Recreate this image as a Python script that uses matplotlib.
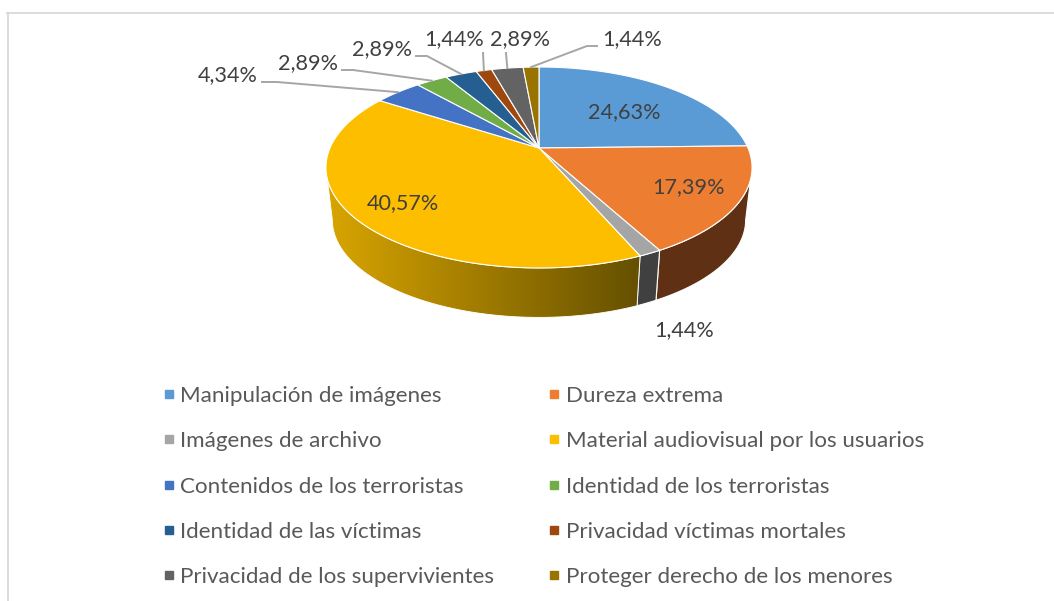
import numpy as np
import matplotlib
matplotlib.use("Agg")
import matplotlib.pyplot as plt
from matplotlib.colors import LinearSegmentedColormap
from matplotlib.lines import Line2D
from matplotlib.patches import Polygon

categories = [
    "Manipulación de imágenes",
    "Dureza extrema",
    "Imágenes de archivo",
    "Material audiovisual por los usuarios",
    "Contenidos de los terroristas",
    "Identidad de los terroristas",
    "Identidad de las víctimas",
    "Privacidad víctimas mortales",
    "Privacidad de los supervivientes",
    "Proteger derecho de los menores",
]
values = [24.63, 17.39, 1.44, 40.57, 4.34, 2.89, 2.89, 1.44, 2.89, 1.44]
colors = ["#5B9BD5", "#ED7D31", "#A5A5A5", "#FDBE00", "#4472C4",
          "#70AD47", "#255E91", "#9E480E", "#636363", "#997300"]
wall_colors = {1: "#5F3014", 2: "#404040"}

# label centres in pixels, and the elbow of the leader line if it has one
label_pos = [(624, 112), (688, 187), (684, 330), (403, 203), (228, 75),
             (308, 63), (382, 49), (454, 39), (520, 39), (632, 39)]
leader_start = {4: (262, 82), 5: (342, 70), 6: (416, 56), 7: (483, 53),
                8: (506, 53), 9: (597, 46)}
leader_elbow = {4: (277, 82), 5: (353, 70), 6: (427, 56), 9: (587, 46)}

# pie centre and perspective of the tilted disc
CX, CY = 539, 148
RX, RY, K = 209, 96.7, 0.194
DEPTH, LOWER_SCALE = 53, 0.97
# clockwise angles where the rim is widest, the wall is only visible between
WALL_FROM, WALL_TO = 101.2, 258.8

plt.rcParams["font.family"] = ["Lato", "DejaVu Sans"]


def project(theta, r=1.0, depth=0.0, scale=1.0):
    theta = np.radians(theta)
    u = r * np.sin(theta)
    v = r * np.cos(theta)
    w = 1 + K * v
    return CX + scale * RX * u / w, CY + depth - scale * RY * v / w


edges = np.concatenate([[0], np.cumsum(values)]) / sum(values) * 360

fig = plt.figure(figsize=(10.54, 6.01), dpi=100)
ax = fig.add_axes([0, 0, 1, 1])

# chart frame, only top and left show in the crop
ax.plot([7, 1054], [13, 13], color="#D9D9D9", lw=1.3, zorder=1)
ax.plot([8, 8], [13, 601], color="#D9D9D9", lw=1.3, zorder=1)

# side walls
gold = LinearSegmentedColormap.from_list("gold", ["#D9A500", "#655000"])
for i in (1, 2, 3):
    a = max(edges[i], WALL_FROM)
    b = min(edges[i + 1], WALL_TO)
    t = np.linspace(a, b, 120)
    xt, yt = project(t)
    xb, yb = project(t[::-1], depth=DEPTH, scale=LOWER_SCALE)
    pts = np.column_stack([np.r_[xt, xb], np.r_[yt, yb]])
    if i == 3:
        grad = ax.imshow(np.linspace(0, 1, 256)[None, :], cmap=gold, aspect="auto",
                         extent=[xt.min(), xt.max(), 330, 140], zorder=2)
        grad.set_clip_path(Polygon(pts, transform=ax.transData))
        ax.add_patch(Polygon(pts, fc="none", ec="white", lw=0.6, zorder=2.5))
    else:
        ax.add_patch(Polygon(pts, fc=wall_colors[i], ec="white", lw=0.8, zorder=2))

# top face
for i, col in enumerate(colors):
    t = np.linspace(edges[i], edges[i + 1], 100)
    x, y = project(t)
    ax.fill(np.r_[CX, x], np.r_[CY, y], fc=col, ec="white", lw=0.8, zorder=3)

# data labels and leaders
for i, val in enumerate(values):
    text = f"{val:.2f}%".replace(".", ",")
    ax.text(label_pos[i][0], label_pos[i][1], text, color="#404040", fontsize=15.6,
            ha="center", va="center", zorder=5)
    if i in leader_start:
        ex, ey = project((edges[i] + edges[i + 1]) / 2)
        pts = [leader_start[i]]
        if i in leader_elbow:
            pts.append(leader_elbow[i])
        pts.append((ex, ey))
        ax.plot(*zip(*pts), color="#A6A6A6", lw=1.4, zorder=4)

# legend, filled by column so swap the order to read by row
order = [0, 2, 4, 6, 8, 1, 3, 5, 7, 9]
handles = [Line2D([], [], ls="none", marker="s", ms=5.5, color=colors[i]) for i in order]
ax.legend(handles, [categories[i] for i in order], ncol=2, frameon=False,
          loc="upper left", bbox_to_anchor=(159, 386), bbox_transform=ax.transData,
          borderpad=0, borderaxespad=0, fontsize=16.1, labelcolor="#595959",
          labelspacing=1.13, handlelength=0.9, handletextpad=0.05, columnspacing=2.24)

ax.set_xlim(0, 1054)
ax.set_ylim(601, 0)
ax.axis("off")
fig.savefig("out.png", dpi=100)
